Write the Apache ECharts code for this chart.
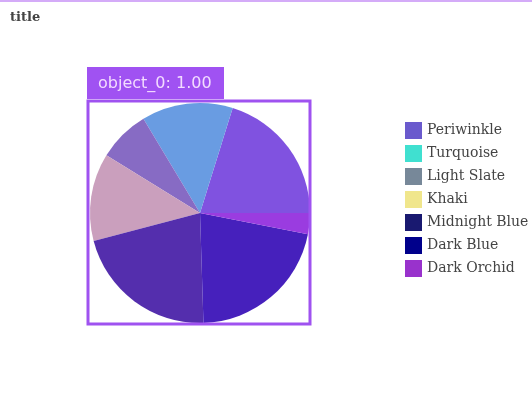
<!DOCTYPE html>
<html>
<head>
<meta charset="utf-8">
<script src="https://cdn.jsdelivr.net/npm/echarts@6/dist/echarts.min.js"></script>
<style>
html,body{margin:0;padding:0;background:#ffffff;}
#chart{width:532px;height:400px;}
</style>
</head>
<body>
<div id="chart"></div>
<script>
var categories = ['Periwinkle', 'Turquoise', 'Light Slate', 'Khaki', 'Midnight Blue', 'Dark Blue', 'Dark Orchid'];
var values = [20.2, 13.4, 7.6, 12.9, 21.4, 21.4, 3.1];
var palette = ['#6a5acd', '#40e0d0', '#778899', '#f0e68c', '#191970', '#00008b', '#9932cc'];
var highlightLabel = 'object_0: 1.00';

function hexToRgb(h) {
  return [parseInt(h.substr(1,2),16), parseInt(h.substr(3,2),16), parseInt(h.substr(5,2),16)];
}
var overlay = [155, 72, 248];
var alpha = 0.45;
function blend(h) {
  var c = hexToRgb(h);
  var r = c.map(function (v, i) { return Math.round(v * (1 - alpha) + overlay[i] * alpha); });
  return 'rgb(' + r.join(',') + ')';
}

var chart = echarts.init(document.getElementById('chart'), null, {renderer: 'canvas'});
var option = {
  animation: false,
  backgroundColor: '#ffffff',
  title: {
    text: 'title',
    left: 5,
    top: 6,
    textStyle: {fontFamily: 'DejaVu Serif', fontWeight: 'bold', fontSize: 13, color: '#444444'}
  },
  legend: {
    orient: 'vertical',
    left: 400,
    top: 117,
    itemWidth: 17,
    itemHeight: 17,
    itemGap: 6,
    icon: 'rect',
    textStyle: {fontFamily: 'DejaVu Serif', fontSize: 14, color: '#444444'},
    data: categories.map(function (n, i) { return {name: n, itemStyle: {color: palette[i]}}; })
  },
  series: [{
    type: 'pie',
    center: [200, 213],
    radius: 110,
    startAngle: 0,
    clockwise: false,
    label: {show: false},
    labelLine: {show: false},
    emphasis: {disabled: true},
    itemStyle: {borderWidth: 0},
    data: categories.map(function (n, i) {
      return {name: n, value: values[i], itemStyle: {color: blend(palette[i])}};
    })
  }],
  graphic: [
    {type: 'rect', left: 0, top: 0, shape: {width: 532, height: 2}, style: {fill: '#d4abf8'}, silent: true},
    {type: 'rect', shape: {x: 88, y: 101, width: 222, height: 223}, style: {fill: 'none', stroke: '#9f52f0', lineWidth: 3}, silent: true, z: 100},
    {type: 'rect', shape: {x: 87, y: 67, width: 137, height: 32}, style: {fill: '#a052f2'}, silent: true, z: 100},
    {type: 'text', x: 98, y: 84, style: {text: highlightLabel, fill: '#f3dcff', font: '16px "DejaVu Sans"', textVerticalAlign: 'middle'}, silent: true, z: 101}
  ]
};
chart.setOption(option);
</script>
</body>
</html>
